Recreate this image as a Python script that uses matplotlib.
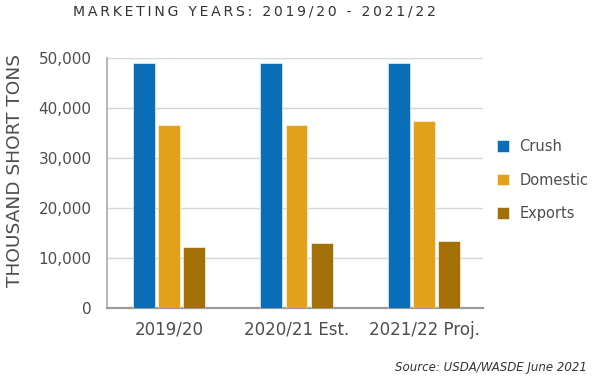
"""
Soybean meal supply/use bar chart, marketing years 2019/20 - 2021/22.
"""
import numpy as np
import matplotlib
matplotlib.use('Agg')
import matplotlib.pyplot as plt
from matplotlib.ticker import FuncFormatter

# === Colours ===
BLUE   = '#0a6db7'
ORANGE = '#e2a118'
BROWN  = '#a46f07'
TEXT   = '#4d4d4d'
DARK   = '#333333'
GRID   = '#d6d6d6'
SPINE  = '#9a9a9a'

# === Data (thousand short tons) ===
years    = ['2019/20', '2020/21 Est.', '2021/22 Proj.']
series   = ['Crush', 'Domestic', 'Exports']
crush    = [49000, 49000, 49000]
domestic = [36600, 36600, 37400]
exports  = [12200, 13000, 13400]
yticks   = [0, 10000, 20000, 30000, 40000, 50000]

plt.rcParams['font.family'] = ['DejaVu Sans']

fig = plt.figure(figsize=(6.0, 3.77), dpi=100, facecolor='white')
ax = fig.add_axes([0.178, 0.182, 0.627, 0.663])

x = np.arange(len(years))
width = 0.17
step = 0.198
for i, (vals, col, name) in enumerate(zip([crush, domestic, exports],
                                          [BLUE, ORANGE, BROWN], series)):
    ax.bar(x + (i - 1) * step, vals, width, color=col, label=name,
           edgecolor='white', linewidth=0.4, zorder=3)

ax.set_xlim(-0.488, 2.463)
ax.set_ylim(0, 50000)
ax.set_yticks(yticks)
ax.yaxis.set_major_formatter(FuncFormatter(lambda v, p: f'{int(v):,}'))
ax.set_xticks(x)
ax.set_xticklabels(years, fontsize=12, color=TEXT)
ax.tick_params(axis='y', length=0, pad=11, labelsize=11, labelcolor=TEXT)
ax.tick_params(axis='x', length=0, pad=9)

ax.grid(axis='y', color=GRID, linewidth=1, zorder=0)
ax.set_axisbelow(True)
for s in ['top', 'right']:
    ax.spines[s].set_visible(False)
ax.spines['left'].set_color('#aaaaaa')
ax.spines['left'].set_linewidth(1.2)
ax.spines['bottom'].set_color(SPINE)
ax.spines['bottom'].set_linewidth(1.6)

# Title with loose letter spacing
title = 'MARKETING YEARS: 2019/20 - 2021/22'
fig.text(254.5 / 600, 1 - 11.5 / 377, '\u2009'.join(title), ha='center',
         va='center', fontsize=10.1, color=DARK)

# Y axis label
fig.text(15 / 600, 0.548, 'THOUSAND SHORT TONS', rotation=90, ha='center',
         va='center', fontsize=13.3, color=TEXT)

# Legend
fig.legend(loc='center left', bbox_to_anchor=(496.7 / 600, 0.5225),
           frameon=False, fontsize=10.5, labelcolor=TEXT, borderpad=0,
           borderaxespad=0, handlelength=0.85, handleheight=0.85,
           handletextpad=0.7, labelspacing=1.25)

# Source note
fig.text(587 / 600, 1 - 367 / 377, 'Source: USDA/WASDE June 2021',
         ha='right', va='center', fontsize=8.5, style='italic', color=DARK)

plt.savefig('out.png', dpi=100, facecolor='white')
plt.close()
